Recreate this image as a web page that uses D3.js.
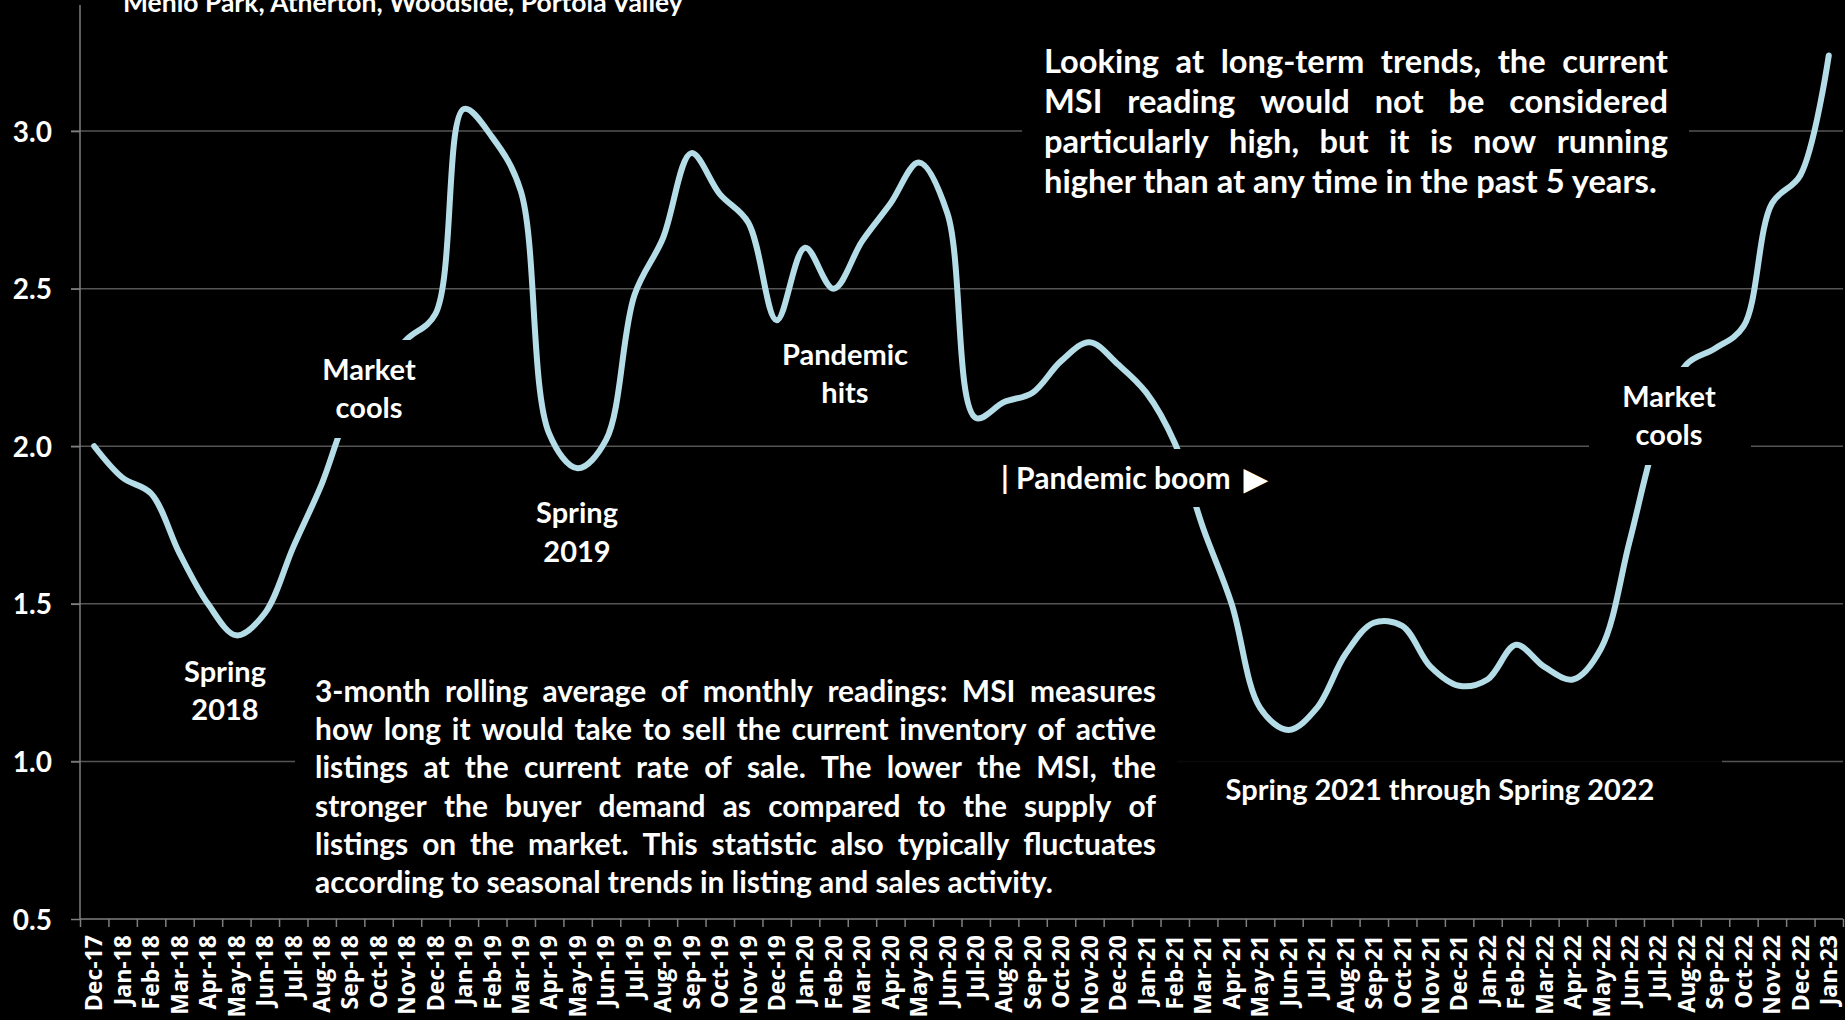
<!DOCTYPE html>
<html>
<head>
<meta charset="utf-8">
<title>MSI - Menlo Park, Atherton, Woodside, Portola Valley</title>
<script src="https://cdn.jsdelivr.net/npm/d3@7"></script>
<style>
html, body { margin: 0; padding: 0; background: #000; }
svg { display: block; }
.lbl { font-family: Lato, sans-serif; font-weight: 700; fill: #fff; }
.tick-lbl { font-family: "Open Sans", sans-serif; font-weight: 700; fill: #fff; }
.grid { stroke: #555; stroke-width: 1.5px; }
.axis-line { stroke: #7f7f7f; stroke-width: 1.5px; fill: none; }
</style>
</head>
<body>
<div id="chart"></div>
<script>
var months = [
  "Dec-17",
  "Jan-18", "Feb-18", "Mar-18", "Apr-18", "May-18", "Jun-18",
  "Jul-18", "Aug-18", "Sep-18", "Oct-18", "Nov-18", "Dec-18",
  "Jan-19", "Feb-19", "Mar-19", "Apr-19", "May-19", "Jun-19",
  "Jul-19", "Aug-19", "Sep-19", "Oct-19", "Nov-19", "Dec-19",
  "Jan-20", "Feb-20", "Mar-20", "Apr-20", "May-20", "Jun-20",
  "Jul-20", "Aug-20", "Sep-20", "Oct-20", "Nov-20", "Dec-20",
  "Jan-21", "Feb-21", "Mar-21", "Apr-21", "May-21", "Jun-21",
  "Jul-21", "Aug-21", "Sep-21", "Oct-21", "Nov-21", "Dec-21",
  "Jan-22", "Feb-22", "Mar-22", "Apr-22", "May-22", "Jun-22",
  "Jul-22", "Aug-22", "Sep-22", "Oct-22", "Nov-22", "Dec-22",
  "Jan-23"
];

// months supply of inventory, 3-month rolling average
var msi = [
  2.00,
  1.90, 1.85, 1.66, 1.50, 1.40, 1.47,
  1.68, 1.88, 2.12, 2.24, 2.34, 2.42,
  3.07, 2.98, 2.81, 2.04, 1.93, 2.02,
  2.48, 2.66, 2.93, 2.80, 2.71, 2.40,
  2.63, 2.50, 2.65, 2.77, 2.90, 2.74,
  2.09, 2.14, 2.17, 2.27, 2.33, 2.26,
  2.17, 2.01, 1.74, 1.50, 1.17, 1.10,
  1.17, 1.34, 1.44, 1.43, 1.30, 1.24,
  1.26, 1.37, 1.30, 1.26, 1.36, 1.70,
  2.05, 2.26, 2.31, 2.38, 2.77, 2.86,
  3.24
];

var yTicks = [0.5, 1.0, 1.5, 2.0, 2.5, 3.0];

var title = "Menlo Park, Atherton, Woodside, Portola Valley";

var bigNote = [
  "Looking at long-term trends, the current",
  "MSI reading would not be considered",
  "particularly high, but it is now running",
  "higher than at any time in the past 5 years."
];

var smallNote = [
  "3-month rolling average of monthly readings: MSI measures",
  "how long it would take to sell the current inventory of active",
  "listings at the current rate of sale. The lower the MSI, the",
  "stronger the buyer demand as compared to the supply of",
  "listings on the market. This statistic also typically fluctuates",
  "according to seasonal trends in listing and sales activity."
];

var width = 1845,
    height = 1020;

var svg = d3.select("#chart").append("svg")
            .attr("width", width)
            .attr("height", height)
            .style("background", "#000");

var x = d3.scaleBand()
          .domain(months)
          .range([80, 1843]);

// boundary ticks sit between the categories
var xEdges = d3.scaleLinear()
               .domain([0, months.length])
               .range(x.range());

var y = d3.scaleLinear()
          .domain([0.5, 3.4])
          .range([919, 5]);

// gridlines (with the small outside tick to the left)
svg.append("g")
   .selectAll("line")
   .data(yTicks.filter(function(d) { return d > 0.5; }))
   .enter().append("line")
   .attr("class", "grid")
   .attr("x1", 71)
   .attr("x2", 1843)
   .attr("y1", function(d) { return y(d); })
   .attr("y2", function(d) { return y(d); });

// y axis
var yAxis = svg.append("g")
   .attr("transform", "translate(80,0)")
   .call(d3.axisLeft(y).tickValues(yTicks).tickSize(9).tickPadding(19)
           .tickFormat(d3.format(".1f")));
yAxis.select(".domain").attr("class", "axis-line").attr("d", "M0," + y(0.5) + "V" + y(3.4));
yAxis.selectAll(".tick line").attr("stroke", "#7f7f7f").attr("stroke-width", 1.5);
yAxis.selectAll(".tick text")
     .attr("class", "lbl")
     .style("font-size", "28px")
     .attr("dy", "0.36em");

// x axis: line + edge ticks
var xAxis = svg.append("g")
   .attr("transform", "translate(0," + y(0.5) + ")")
   .call(d3.axisBottom(xEdges).tickValues(d3.range(months.length + 1))
           .tickSize(8).tickFormat(""));
xAxis.select(".domain").attr("class", "axis-line").attr("d", "M80,0H1843");
xAxis.selectAll(".tick line").attr("stroke", "#7f7f7f").attr("stroke-width", 1.5);

// x labels, rotated
var xLabels = svg.append("g")
   .attr("transform", "translate(0," + y(0.5) + ")")
   .call(d3.axisBottom(x).tickSize(0));
xLabels.select(".domain").remove();
xLabels.selectAll(".tick text")
       .attr("class", "tick-lbl")
       .style("font-size", "23px")
       .attr("text-anchor", "end")
       .attr("transform", "rotate(-90)")
       .attr("x", -16)
       .attr("y", 0)
       .attr("dy", "0.36em");

// the MSI line
var line = d3.line()
             .x(function(d, i) { return x(months[i]) + x.bandwidth() / 2; })
             .y(function(d) { return y(d); })
             .curve(d3.curveCatmullRom.alpha(0.5));

svg.append("path")
   .datum(msi)
   .attr("d", line)
   .attr("fill", "none")
   .attr("stroke", "#b4dde8")
   .attr("stroke-width", 6)
   .attr("stroke-linecap", "round")
   .attr("stroke-linejoin", "round");

// ---- annotations ----
var notes = svg.append("g");

function measure(txt, size) {
  var t = notes.append("text").attr("class", "lbl").style("font-size", size + "px").text(txt);
  var w = t.node().getComputedTextLength();
  t.remove();
  return w;
}

function box(x0, y0, x1, y1, op) {
  notes.append("rect")
     .attr("x", x0).attr("y", y0)
     .attr("width", x1 - x0).attr("height", y1 - y0)
     .attr("fill", "#000")
     .attr("fill-opacity", op || 1);
}

function label(lines, cx, y0, size, lh) {
  var t = notes.append("text")
               .attr("class", "lbl")
               .attr("text-anchor", "middle")
               .style("font-size", size + "px");
  lines.forEach(function(l, k) {
    t.append("tspan").attr("x", cx).attr("y", y0 + k * lh).text(l);
  });
}

// one <text> per word so widths are measured independently
function justify(lines, x0, x1, y0, lh, size) {
  lines.forEach(function(l, k) {
    var yy = y0 + k * lh;
    if (k == lines.length - 1) {
      notes.append("text").attr("class", "lbl").style("font-size", size + "px")
           .attr("x", x0).attr("y", yy).text(l);
      return;
    }
    var words = l.split(" ");
    var widths = words.map(function(w) { return measure(w, size); });
    var gap = (x1 - x0 - d3.sum(widths)) / (words.length - 1);
    var cx = x0;
    words.forEach(function(w, i) {
      notes.append("text").attr("class", "lbl").style("font-size", size + "px")
           .attr("x", cx).attr("y", yy).text(w);
      cx += widths[i] + gap;
    });
  });
}

function drawNotes() {
  notes.selectAll("*").remove();

  // title, cut off at the top edge like the source slide
  var titleSize = 100 * 560 / measure(title, 100);
  notes.append("text")
     .attr("class", "lbl")
     .style("font-size", titleSize + "px")
     .attr("x", 123)
     .attr("y", 12)
     .text(title);

  box(312, 340, 426, 438);
  label(["Market", "cools"], 369, 380, 29, 38);

  label(["Spring", "2018"], 225, 682, 29, 38);
  label(["Spring", "2019"], 577, 523, 29, 39);
  label(["Pandemic", "hits"], 845, 365, 29, 38);

  box(990, 449, 1285, 507);
  var pb = notes.append("text")
     .attr("class", "lbl")
     .style("font-size", "30px")
     .attr("x", 1001)
     .attr("y", 489)
     .text("| Pandemic boom ");
  pb.append("tspan").attr("dx", 6).style("font-size", "30px").text("\u25B6");

  box(1589, 367, 1751, 465);
  label(["Market", "cools"], 1669, 407, 29, 38);

  box(1177, 745, 1722, 830, 0.88);
  label(["Spring 2021 through Spring 2022"], 1440, 800, 29, 38);

  box(1022, 40, 1689, 215);
  var bigSize = 100 * 613 / measure(bigNote[3], 100);
  justify(bigNote, 1044, 1668, 73, 40, bigSize);

  box(295, 665, 1177, 915);
  var smallSize = 100 * 738 / measure(smallNote[5], 100);
  justify(smallNote, 315, 1156, 702, 38.2, smallSize);
}

drawNotes();
// redo the measured layout once the fonts are really in
if (document.fonts) {
  Promise.all([
    document.fonts.load("700 29px Lato"),
    document.fonts.load("700 23px 'Open Sans'")
  ]).then(drawNotes);
}
</script>
</body>
</html>
